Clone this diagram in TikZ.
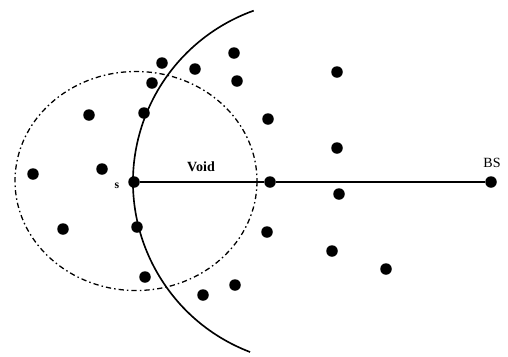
\documentclass[tikz,border=0pt]{standalone}
\usepackage{fontspec}
\setmainfont{Liberation Serif}
\usepackage{tikz}
\usetikzlibrary{
    positioning
}

\tikzset{
    sensor/.style={
        circle,
        fill=black,
        inner sep=0pt,
        minimum size=11.5*0.03cm
    },
    rangeline/.style={
        line width=1.1pt,
        dash pattern=on 4.5pt off 2.6pt on 1.3pt off 2.6pt
    }
}

\begin{document}
\begin{tikzpicture}[x=0.03cm,y=-0.03cm]
%
    \useasboundingbox (0,0) rectangle (508,356);
%
    % Transmission range of s
%
    \draw[
        rangeline
    ]
    (136,181) ellipse [x radius=121, y radius=109.5];
%
    % Arc around BS
%
    \draw[
        line width=1.4pt
    ]
    (315,182) ++(110.9:182) arc[start angle=110.9, end angle=250.3, radius=182];
%
    % Source, hole edge and base station
%
    \node[sensor] (s) at (134,182) {};
    \node[sensor] (edge) at (270,182) {};
    \node[sensor] (bs) at (491,182) {};
%
    \draw[
        line width=1pt
    ]
    (s) -- (edge) -- (bs);
%
    \node[
        font=\bfseries
    ]
    (s-label) at (117,186) {s};
%
    \node[
        font=\bfseries\large
    ]
    (void-label) at (201,167) {Void};
%
    \node[
        font=\large
    ]
    (bs-label) at (492,163) {BS};
%
    % Other sensors
%
    \foreach \x/\y [count=\i] in {
        162/63, 195/69, 234/53, 237/81, 152/83,
        89/115, 144/113, 33/174, 102/169, 63/229,
        137/227, 145/277, 203/295, 235/285, 337/72,
        268/119, 337/148, 339/194, 267/232, 332/251,
        386/269
    }
        \node[sensor] (n\i) at (\x,\y) {};
%
\end{tikzpicture}
\end{document}
